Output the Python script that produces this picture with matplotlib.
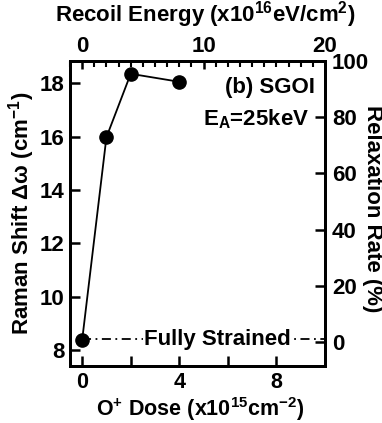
import matplotlib
matplotlib.use("Agg")
import matplotlib.pyplot as plt
from matplotlib.ticker import MultipleLocator, FixedLocator

plt.rcParams['font.family'] = ['Liberation Sans', 'DejaVu Sans']
plt.rcParams['font.weight'] = 'bold'
plt.rcParams['mathtext.fontset'] = 'custom'
plt.rcParams['mathtext.rm'] = 'Liberation Sans:bold'
plt.rcParams['mathtext.bf'] = 'Liberation Sans:bold'
plt.rcParams['mathtext.it'] = 'Liberation Sans:bold'
plt.rcParams['mathtext.default'] = 'bf'

# data
dose = [0, 1, 2, 4]
raman_shift = [8.37, 15.98, 18.36, 18.06]
strained_level = 8.4
bottom_ticks = [0, 2, 4, 6, 8, 10]
bottom_labels = ['0', '', '4', '', '8', '']
left_ticks = [8, 10, 12, 14, 16, 18]
right_ticks = [0, 20, 40, 60, 80, 100]
top_major = [0, 10, 20]

FS = 16
W, H = 382, 423
fig = plt.figure(figsize=(W/100, H/100), dpi=100)
ax = fig.add_axes([70/W, (H-366)/H, 255/W, 305/H])

ax.plot(dose, raman_shift, '-', color='black', lw=1.3, marker='o', ms=9.5, zorder=3)
ax.plot([0, 10], [strained_level, strained_level], color='black', lw=1.3,
        ls=(0, (5, 2.5, 1, 2.5)), zorder=2)
ax.text(5.57, strained_level, 'Fully Strained', ha='center', va='center',
        fontsize=FS, fontweight='bold', bbox=dict(facecolor='white', edgecolor='none', pad=1), zorder=2.5)

ax.set_xlim(-0.5, 10)
ax.set_ylim(7.4, 18.84)
ax.set_xticks(bottom_ticks)
ax.set_xticklabels(bottom_labels)
ax.set_yticks(left_ticks)
ax.tick_params(axis='both', direction='in', length=7, width=1.8, labelsize=FS, pad=4)
ax.tick_params(axis='x', labelsize=15.5, pad=4)
for s in ax.spines.values():
    s.set_linewidth(2)

ax.set_xlabel('O$^{+}$ Dose (x10$^{15}$cm$^{-2}$)', fontsize=15.5, fontweight='bold', va='bottom')
ax.xaxis.set_label_coords((200-70)/255, -(422.5-366)/305)
ax.set_ylabel('Raman Shift Δω (cm$^{-1}$)', fontsize=FS, fontweight='bold', va='center')
ax.yaxis.set_label_coords(-(70-22)/255, 0.5)

axt = ax.twiny()
axt.set_xlim(-1, 20)
axt.xaxis.set_major_locator(FixedLocator(top_major))
axt.xaxis.set_minor_locator(MultipleLocator(1))
axt.tick_params(axis='x', which='major', direction='in', length=6, width=1.8, labelsize=FS, pad=3)
axt.tick_params(axis='x', which='minor', direction='in', length=4, width=1.5)
axt.set_xlabel('Recoil Energy (x10$^{16}$eV/cm$^{2}$)', fontsize=FS, fontweight='bold')
axt.xaxis.set_label_coords((205-70)/255, 1.0 + 40/305)

axr = ax.twinx()
axr.set_ylim(-8.5, 100)
axr.set_yticks(right_ticks)
axr.tick_params(axis='y', direction='in', length=7, width=1.8, labelsize=FS, pad=5)
axr.set_ylabel('Relaxation Rate (%)', fontsize=FS, fontweight='bold', rotation=-90, va='center')
axr.yaxis.set_label_coords((372-70)/255, (366-209)/305)
for a in (axt, axr):
    for s in a.spines.values():
        s.set_linewidth(2)

ax.text(9.6, 17.63, '(b) SGOI', ha='right', va='baseline', fontsize=FS, fontweight='bold')
ax.text(9.35, 16.44, 'E$_{A}$=25keV', ha='right', va='baseline', fontsize=FS, fontweight='bold')

fig.savefig('out.png', dpi=100)
